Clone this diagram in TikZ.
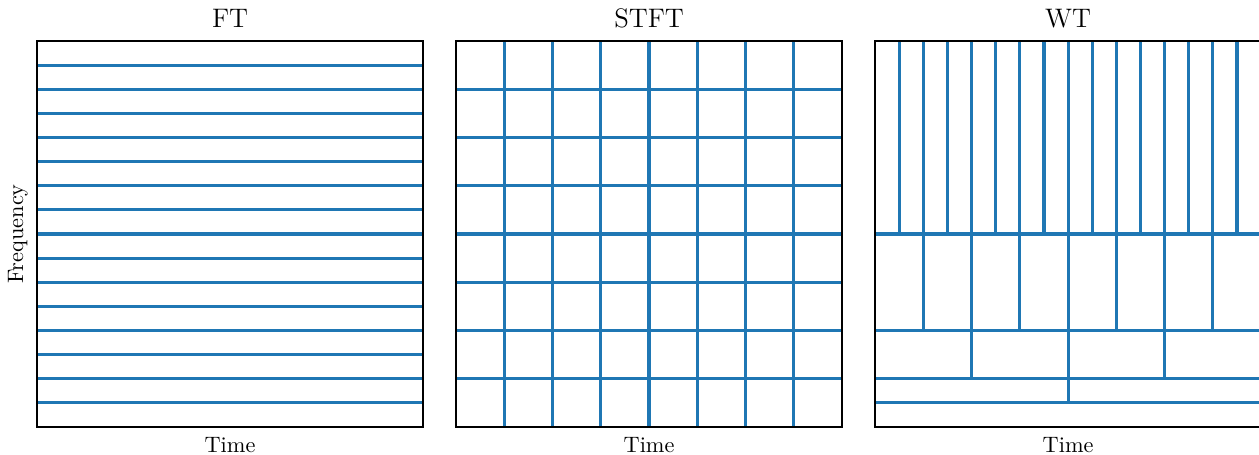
\documentclass[tikz,border=0pt]{standalone}
\definecolor{tabblue}{HTML}{1F77B4}
\tikzset{
  gridline/.style={tabblue, line width=1.4pt},
  frame/.style={black, line width=0.8pt},
  paneltitle/.style={font=\large, anchor=base},
  axlabel/.style={anchor=base},
}
\begin{document}
\begin{tikzpicture}[x=0.38cm,y=0.38cm]
  \useasboundingbox (-1.534,-1.119) rectangle (50.65,17.70);
  % FT panel
  \foreach \y in {1,...,15}
    \draw[gridline] (0,\y) -- (16,\y);
  \draw[frame] (0,0) rectangle (16,16);
  \node[paneltitle] (ftTitle) at (8,16.58) {FT};
  \node[axlabel] (ftTime) at (8,-1.04) {Time};
  \node[axlabel, rotate=90] (freq) at (-0.58,8) {Frequency};
  % STFT panel
  \begin{scope}[shift={(17.368,0)}]
    \foreach \k in {2,4,...,14} {
      \draw[gridline] (0,\k) -- (16,\k);
      \draw[gridline] (\k,0) -- (\k,16);
    }
    \draw[frame] (0,0) rectangle (16,16);
    \node[paneltitle] (stftTitle) at (8,16.58) {STFT};
    \node[axlabel] (stftTime) at (8,-1.04) {Time};
  \end{scope}
  % WT panel
  \begin{scope}[shift={(34.737,0)}]
    \foreach \y in {1,2,4,8}
      \draw[gridline] (0,\y) -- (16,\y);
    \draw[gridline] (8,1) -- (8,2);
    \foreach \x in {4,8,12}
      \draw[gridline] (\x,2) -- (\x,4);
    \foreach \x in {2,4,...,14}
      \draw[gridline] (\x,4) -- (\x,8);
    \foreach \x in {1,...,15}
      \draw[gridline] (\x,8) -- (\x,16);
    \draw[frame] (0,0) rectangle (16,16);
    \node[paneltitle] (wtTitle) at (8,16.58) {WT};
    \node[axlabel] (wtTime) at (8,-1.04) {Time};
  \end{scope}
\end{tikzpicture}
\end{document}
